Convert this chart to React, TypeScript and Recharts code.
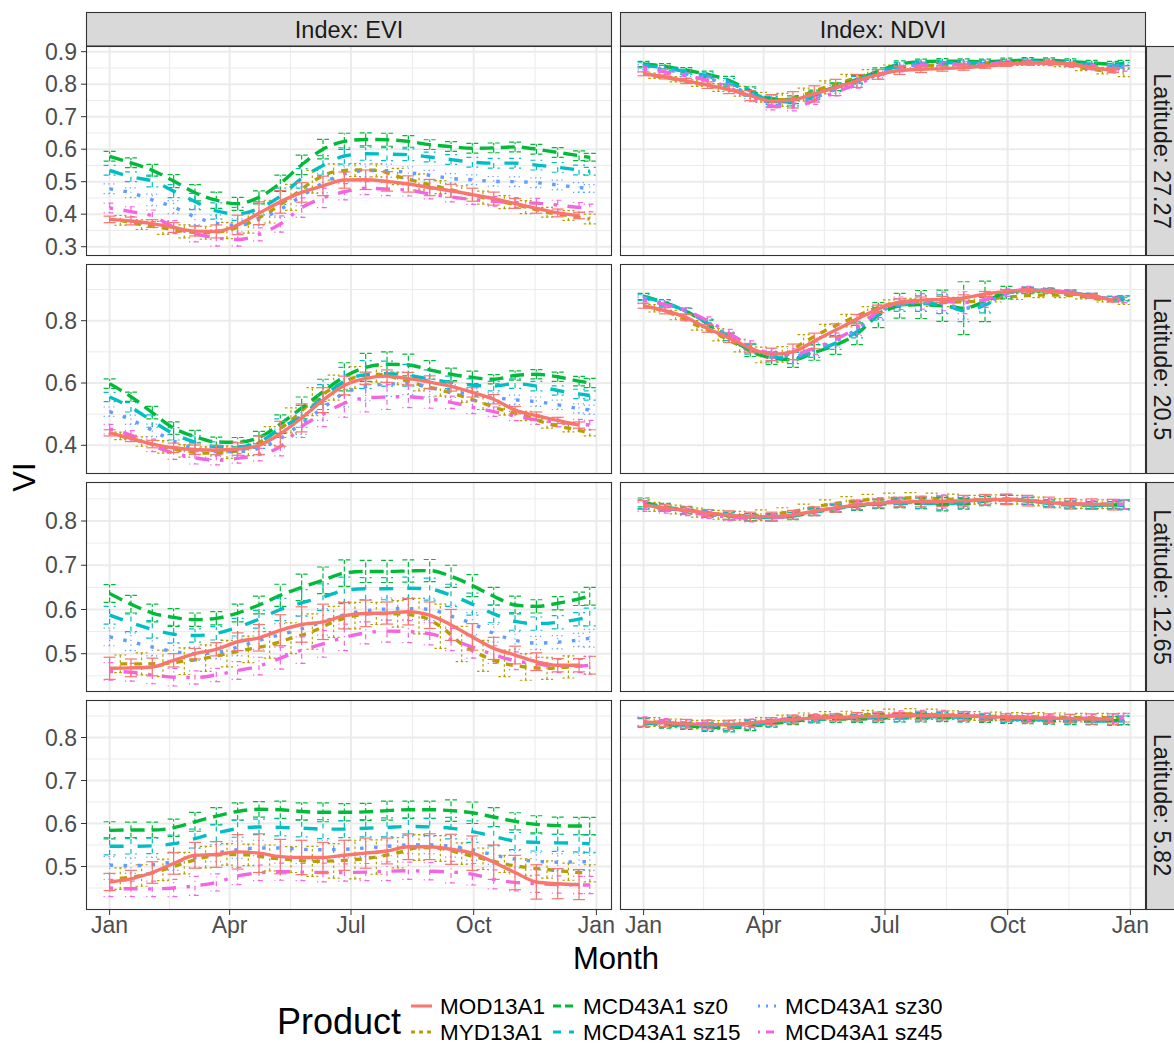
import React from 'react';
import { LineChart, Line, XAxis, YAxis, ErrorBar, ReferenceLine } from 'recharts';

const FONT = '"Liberation Sans", Arial, Helvetica, sans-serif';

// ---------- categories / axes ----------
const PRODUCTS = ['MOD13A1', 'MYD13A1', 'MCD43A1 sz0', 'MCD43A1 sz15', 'MCD43A1 sz30', 'MCD43A1 sz45'];
const INDEX_LABELS = ['Index: EVI', 'Index: NDVI'];
const ROW_LABELS = ['Latitude: 27.27', 'Latitude: 20.5', 'Latitude: 12.65', 'Latitude: 5.82'];
const MONTH_TICKS = [0, 90, 181, 273, 365];
const MONTH_LABELS = ['Jan', 'Apr', 'Jul', 'Oct', 'Jan'];
const MONTH_MINOR = [45, 135.5, 227, 319];

const DAYS_MOD = [0, 16, 32, 48, 64, 80, 96, 112, 128, 144, 160, 176, 192, 208, 224, 240, 256, 272, 288, 304, 320, 336, 352];
const DAYS_MYD = [8, 24, 40, 56, 72, 88, 104, 120, 136, 152, 168, 184, 200, 216, 232, 248, 264, 280, 296, 312, 328, 344, 360];
const DAYS_MCD = [0, 16, 32, 48, 64, 80, 96, 112, 128, 144, 160, 176, 192, 208, 224, 240, 256, 272, 288, 304, 320, 336, 352, 360];

const ROW_DOMAINS = [[0.2714, 0.9175], [0.3079, 0.982], [0.4134, 0.8882], [0.3988, 0.8872]];
const ROW_TICKS = [[0.3, 0.4, 0.5, 0.6, 0.7, 0.8, 0.9], [0.4, 0.6, 0.8], [0.5, 0.6, 0.7, 0.8], [0.5, 0.6, 0.7, 0.8]];
const ROW_MINOR = [[0.35, 0.45, 0.55, 0.65, 0.75, 0.85], [0.5, 0.7, 0.9], [0.45, 0.55, 0.65, 0.75, 0.85], [0.45, 0.55, 0.65, 0.75, 0.85]];

// ---------- Latitude 27.27 ----------
const EVI27_MOD = [0.384, 0.379, 0.371, 0.359, 0.348, 0.347, 0.367, 0.403, 0.438, 0.467, 0.487, 0.505, 0.506, 0.501, 0.493, 0.482, 0.472, 0.460, 0.448, 0.433, 0.418, 0.404, 0.396];
const EVI27_MYD = [0.381, 0.368, 0.358, 0.347, 0.343, 0.350, 0.372, 0.408, 0.452, 0.500, 0.530, 0.536, 0.535, 0.516, 0.499, 0.483, 0.467, 0.451, 0.437, 0.422, 0.406, 0.396, 0.385];
const EVI27_SZ0 = [0.578, 0.558, 0.535, 0.502, 0.466, 0.443, 0.432, 0.452, 0.495, 0.552, 0.600, 0.624, 0.630, 0.629, 0.624, 0.614, 0.608, 0.603, 0.604, 0.607, 0.600, 0.590, 0.580, 0.575];
const EVI27_SZ15 = [0.535, 0.515, 0.502, 0.471, 0.439, 0.410, 0.401, 0.418, 0.455, 0.510, 0.550, 0.579, 0.586, 0.585, 0.583, 0.576, 0.568, 0.560, 0.557, 0.557, 0.551, 0.544, 0.536, 0.532];
const EVI27_SZ30 = [0.478, 0.466, 0.444, 0.422, 0.392, 0.372, 0.366, 0.384, 0.415, 0.456, 0.496, 0.524, 0.534, 0.534, 0.528, 0.520, 0.510, 0.506, 0.501, 0.500, 0.497, 0.490, 0.482, 0.479];
const EVI27_SZ45 = [0.419, 0.408, 0.395, 0.360, 0.340, 0.327, 0.322, 0.338, 0.370, 0.420, 0.450, 0.469, 0.480, 0.477, 0.474, 0.462, 0.453, 0.445, 0.440, 0.436, 0.434, 0.428, 0.421, 0.419];
const EVI27_MOD_ERR = [0.01, 0.012, 0.012, 0.015, 0.015, 0.02, 0.03, 0.035, 0.035, 0.03, 0.03, 0.025, 0.03, 0.03, 0.025, 0.025, 0.02, 0.02, 0.02, 0.015, 0.015, 0.012, 0.01];
const EVI27_MYD_ERR = [0.015, 0.015, 0.02, 0.02, 0.02, 0.025, 0.03, 0.035, 0.04, 0.035, 0.025, 0.02, 0.02, 0.025, 0.025, 0.02, 0.02, 0.02, 0.02, 0.02, 0.015, 0.015, 0.015];
const EVI27_MCD_ERR = [0.015, 0.015, 0.018, 0.02, 0.025, 0.025, 0.02, 0.02, 0.025, 0.03, 0.03, 0.025, 0.02, 0.02, 0.018, 0.015, 0.015, 0.015, 0.015, 0.015, 0.015, 0.015, 0.015, 0.012];

const NDVI27_MOD = [0.832, 0.822, 0.810, 0.797, 0.783, 0.765, 0.748, 0.752, 0.770, 0.790, 0.810, 0.830, 0.842, 0.846, 0.848, 0.851, 0.855, 0.861, 0.865, 0.866, 0.861, 0.851, 0.842];
const NDVI27_MYD = [0.826, 0.815, 0.803, 0.790, 0.778, 0.760, 0.752, 0.768, 0.790, 0.810, 0.830, 0.847, 0.855, 0.858, 0.860, 0.862, 0.864, 0.866, 0.866, 0.862, 0.850, 0.842, 0.835];
const NDVI27_SZ0 = [0.862, 0.855, 0.843, 0.830, 0.812, 0.780, 0.755, 0.752, 0.770, 0.792, 0.815, 0.840, 0.862, 0.869, 0.871, 0.870, 0.869, 0.872, 0.874, 0.873, 0.870, 0.865, 0.862, 0.865];
const NDVI27_SZ15 = [0.858, 0.850, 0.838, 0.825, 0.805, 0.775, 0.750, 0.745, 0.765, 0.790, 0.812, 0.836, 0.857, 0.864, 0.866, 0.866, 0.866, 0.868, 0.870, 0.869, 0.865, 0.860, 0.856, 0.858];
const NDVI27_SZ30 = [0.852, 0.845, 0.832, 0.818, 0.798, 0.768, 0.742, 0.738, 0.758, 0.784, 0.806, 0.830, 0.852, 0.860, 0.862, 0.863, 0.863, 0.866, 0.868, 0.867, 0.862, 0.856, 0.852, 0.853];
const NDVI27_SZ45 = [0.845, 0.838, 0.826, 0.812, 0.790, 0.758, 0.733, 0.730, 0.750, 0.776, 0.800, 0.826, 0.848, 0.857, 0.860, 0.861, 0.862, 0.865, 0.866, 0.865, 0.860, 0.852, 0.848, 0.848];
const NDVI27_MOD_ERR = [0.006, 0.006, 0.008, 0.01, 0.012, 0.015, 0.02, 0.025, 0.025, 0.025, 0.02, 0.015, 0.012, 0.01, 0.008, 0.008, 0.006, 0.006, 0.006, 0.006, 0.006, 0.006, 0.006];
const NDVI27_MYD_ERR = [0.008, 0.008, 0.01, 0.012, 0.015, 0.015, 0.02, 0.02, 0.02, 0.02, 0.015, 0.012, 0.01, 0.008, 0.008, 0.008, 0.008, 0.008, 0.008, 0.008, 0.008, 0.01, 0.012];
const NDVI27_MCD_ERR = [0.008, 0.008, 0.008, 0.01, 0.012, 0.012, 0.012, 0.012, 0.012, 0.012, 0.012, 0.01, 0.01, 0.008, 0.008, 0.008, 0.008, 0.008, 0.008, 0.008, 0.008, 0.008, 0.008, 0.008];

// ---------- Latitude 20.5 ----------
const EVI20_MOD = [0.440, 0.422, 0.404, 0.392, 0.386, 0.385, 0.388, 0.400, 0.437, 0.488, 0.545, 0.592, 0.615, 0.622, 0.614, 0.603, 0.589, 0.570, 0.548, 0.513, 0.495, 0.480, 0.465];
const EVI20_MYD = [0.430, 0.412, 0.395, 0.382, 0.375, 0.378, 0.392, 0.430, 0.480, 0.540, 0.585, 0.618, 0.628, 0.615, 0.595, 0.578, 0.558, 0.535, 0.512, 0.494, 0.470, 0.455, 0.440];
const EVI20_SZ0 = [0.598, 0.556, 0.505, 0.455, 0.428, 0.411, 0.410, 0.425, 0.468, 0.520, 0.572, 0.620, 0.650, 0.660, 0.658, 0.642, 0.628, 0.618, 0.612, 0.624, 0.628, 0.620, 0.606, 0.600];
const EVI20_SZ15 = [0.555, 0.522, 0.478, 0.437, 0.410, 0.396, 0.395, 0.410, 0.455, 0.493, 0.555, 0.605, 0.627, 0.630, 0.625, 0.612, 0.602, 0.593, 0.590, 0.598, 0.590, 0.576, 0.565, 0.560];
const EVI20_SZ30 = [0.508, 0.482, 0.448, 0.414, 0.390, 0.380, 0.380, 0.390, 0.422, 0.470, 0.520, 0.568, 0.588, 0.597, 0.598, 0.585, 0.574, 0.562, 0.553, 0.546, 0.540, 0.530, 0.518, 0.514];
const EVI20_SZ45 = [0.452, 0.432, 0.400, 0.375, 0.360, 0.352, 0.358, 0.370, 0.396, 0.460, 0.500, 0.535, 0.552, 0.555, 0.556, 0.549, 0.538, 0.522, 0.508, 0.494, 0.482, 0.474, 0.468, 0.465];
const EVI20_MOD_ERR = [0.01, 0.01, 0.012, 0.015, 0.015, 0.015, 0.02, 0.03, 0.04, 0.045, 0.04, 0.03, 0.02, 0.02, 0.02, 0.02, 0.015, 0.015, 0.015, 0.012, 0.012, 0.01, 0.01];
const EVI20_MYD_ERR = [0.012, 0.015, 0.02, 0.02, 0.02, 0.02, 0.025, 0.03, 0.04, 0.045, 0.04, 0.035, 0.025, 0.02, 0.02, 0.02, 0.02, 0.02, 0.015, 0.015, 0.015, 0.012, 0.01];
const EVI20_MCD_ERR = [0.015, 0.015, 0.02, 0.02, 0.02, 0.015, 0.015, 0.02, 0.03, 0.035, 0.04, 0.045, 0.045, 0.04, 0.035, 0.03, 0.02, 0.02, 0.015, 0.015, 0.015, 0.015, 0.015, 0.015];

const NDVI20_MOD = [0.848, 0.832, 0.810, 0.775, 0.745, 0.712, 0.692, 0.700, 0.735, 0.770, 0.805, 0.838, 0.860, 0.866, 0.868, 0.873, 0.886, 0.894, 0.898, 0.895, 0.888, 0.878, 0.866];
const NDVI20_MYD = [0.840, 0.818, 0.785, 0.755, 0.720, 0.690, 0.692, 0.730, 0.768, 0.800, 0.830, 0.852, 0.860, 0.858, 0.860, 0.862, 0.872, 0.878, 0.882, 0.882, 0.878, 0.868, 0.860];
const NDVI20_SZ0 = [0.878, 0.858, 0.830, 0.790, 0.745, 0.705, 0.680, 0.675, 0.698, 0.722, 0.758, 0.818, 0.848, 0.852, 0.848, 0.840, 0.862, 0.890, 0.897, 0.895, 0.890, 0.880, 0.870, 0.872];
const NDVI20_SZ15 = [0.875, 0.857, 0.830, 0.792, 0.748, 0.708, 0.683, 0.680, 0.702, 0.728, 0.765, 0.822, 0.850, 0.855, 0.853, 0.832, 0.850, 0.888, 0.898, 0.896, 0.890, 0.880, 0.870, 0.872];
const NDVI20_SZ30 = [0.870, 0.854, 0.830, 0.795, 0.752, 0.712, 0.688, 0.685, 0.708, 0.735, 0.772, 0.826, 0.852, 0.858, 0.856, 0.840, 0.855, 0.888, 0.898, 0.897, 0.890, 0.880, 0.870, 0.870];
const NDVI20_SZ45 = [0.865, 0.852, 0.832, 0.800, 0.760, 0.720, 0.695, 0.692, 0.712, 0.740, 0.778, 0.830, 0.856, 0.862, 0.862, 0.858, 0.868, 0.890, 0.900, 0.898, 0.890, 0.880, 0.868, 0.866];
const NDVI20_MOD_ERR = [0.008, 0.01, 0.01, 0.012, 0.015, 0.015, 0.02, 0.025, 0.025, 0.02, 0.015, 0.012, 0.01, 0.01, 0.01, 0.01, 0.008, 0.006, 0.006, 0.006, 0.006, 0.006, 0.006];
const NDVI20_MYD_ERR = [0.012, 0.015, 0.015, 0.02, 0.02, 0.025, 0.025, 0.025, 0.02, 0.02, 0.015, 0.015, 0.012, 0.012, 0.015, 0.015, 0.012, 0.01, 0.008, 0.008, 0.008, 0.008, 0.008];
const NDVI20_SZ0_ERR = [0.01, 0.01, 0.01, 0.012, 0.015, 0.02, 0.02, 0.025, 0.025, 0.03, 0.035, 0.04, 0.04, 0.045, 0.05, 0.085, 0.065, 0.02, 0.01, 0.008, 0.008, 0.008, 0.008, 0.008];
const NDVI20_MCD_ERR = [0.01, 0.01, 0.01, 0.012, 0.012, 0.015, 0.015, 0.018, 0.02, 0.02, 0.02, 0.02, 0.02, 0.025, 0.03, 0.035, 0.025, 0.012, 0.01, 0.008, 0.008, 0.008, 0.008, 0.008];

// ---------- Latitude 12.65 ----------
const EVI12_MOD = [0.467, 0.468, 0.470, 0.485, 0.500, 0.510, 0.527, 0.536, 0.553, 0.566, 0.572, 0.586, 0.591, 0.592, 0.595, 0.587, 0.565, 0.538, 0.512, 0.497, 0.482, 0.474, 0.474];
const EVI12_MYD = [0.477, 0.477, 0.478, 0.483, 0.490, 0.500, 0.510, 0.520, 0.535, 0.550, 0.572, 0.586, 0.591, 0.590, 0.585, 0.562, 0.522, 0.495, 0.478, 0.470, 0.467, 0.470, 0.474];
const EVI12_SZ0 = [0.636, 0.612, 0.592, 0.582, 0.577, 0.580, 0.592, 0.610, 0.632, 0.650, 0.666, 0.682, 0.686, 0.686, 0.687, 0.688, 0.675, 0.654, 0.630, 0.610, 0.607, 0.614, 0.624, 0.630];
const EVI12_SZ15 = [0.587, 0.570, 0.555, 0.544, 0.541, 0.546, 0.560, 0.578, 0.600, 0.615, 0.628, 0.643, 0.647, 0.647, 0.648, 0.646, 0.632, 0.612, 0.590, 0.573, 0.568, 0.571, 0.578, 0.583];
const EVI12_SZ30 = [0.538, 0.527, 0.515, 0.505, 0.500, 0.503, 0.515, 0.530, 0.543, 0.556, 0.572, 0.588, 0.597, 0.601, 0.602, 0.600, 0.585, 0.568, 0.546, 0.530, 0.524, 0.526, 0.531, 0.535];
const EVI12_SZ45 = [0.460, 0.458, 0.452, 0.447, 0.446, 0.452, 0.462, 0.472, 0.490, 0.508, 0.522, 0.537, 0.547, 0.551, 0.550, 0.545, 0.532, 0.515, 0.498, 0.484, 0.477, 0.472, 0.472, 0.474];
const EVI12_MOD_ERR = [0.025, 0.02, 0.02, 0.015, 0.012, 0.015, 0.02, 0.03, 0.035, 0.04, 0.04, 0.03, 0.03, 0.025, 0.03, 0.03, 0.035, 0.03, 0.025, 0.02, 0.02, 0.015, 0.015];
const EVI12_MYD_ERR = [0.02, 0.025, 0.03, 0.03, 0.03, 0.03, 0.03, 0.03, 0.035, 0.04, 0.035, 0.03, 0.025, 0.03, 0.04, 0.05, 0.04, 0.035, 0.03, 0.03, 0.025, 0.025, 0.02];
const EVI12_MCD_ERR = [0.02, 0.02, 0.02, 0.02, 0.015, 0.015, 0.02, 0.02, 0.025, 0.03, 0.03, 0.03, 0.025, 0.025, 0.025, 0.025, 0.025, 0.025, 0.02, 0.02, 0.015, 0.015, 0.015, 0.02];

const NDVI12_MOD = [0.836, 0.830, 0.824, 0.818, 0.813, 0.810, 0.810, 0.814, 0.822, 0.830, 0.836, 0.840, 0.843, 0.844, 0.845, 0.846, 0.848, 0.849, 0.846, 0.842, 0.839, 0.838, 0.837];
const NDVI12_MYD = [0.832, 0.826, 0.819, 0.814, 0.812, 0.813, 0.818, 0.826, 0.836, 0.843, 0.848, 0.851, 0.852, 0.851, 0.849, 0.848, 0.849, 0.848, 0.844, 0.840, 0.838, 0.838, 0.838];
const NDVI12_SZ0 = [0.842, 0.832, 0.825, 0.818, 0.812, 0.809, 0.808, 0.811, 0.820, 0.828, 0.834, 0.838, 0.840, 0.840, 0.838, 0.839, 0.845, 0.848, 0.845, 0.840, 0.837, 0.836, 0.836, 0.837];
const NDVI12_SZ15 = [0.838, 0.830, 0.823, 0.816, 0.811, 0.808, 0.808, 0.812, 0.821, 0.829, 0.835, 0.839, 0.840, 0.840, 0.840, 0.841, 0.846, 0.849, 0.846, 0.840, 0.836, 0.835, 0.835, 0.835];
const NDVI12_SZ30 = [0.836, 0.829, 0.822, 0.815, 0.810, 0.808, 0.809, 0.813, 0.822, 0.830, 0.836, 0.840, 0.842, 0.842, 0.842, 0.843, 0.847, 0.849, 0.846, 0.841, 0.838, 0.837, 0.837, 0.837];
const NDVI12_SZ45 = [0.832, 0.826, 0.820, 0.814, 0.809, 0.806, 0.807, 0.812, 0.822, 0.831, 0.838, 0.842, 0.844, 0.844, 0.844, 0.845, 0.848, 0.850, 0.846, 0.842, 0.839, 0.838, 0.838, 0.838];
const NDVI12_MOD_ERR = [0.01, 0.008, 0.008, 0.008, 0.01, 0.01, 0.01, 0.01, 0.01, 0.01, 0.01, 0.01, 0.01, 0.012, 0.012, 0.012, 0.012, 0.012, 0.012, 0.012, 0.012, 0.012, 0.012];
const NDVI12_MYD_ERR = [0.01, 0.01, 0.01, 0.01, 0.01, 0.012, 0.012, 0.012, 0.012, 0.012, 0.012, 0.012, 0.012, 0.012, 0.012, 0.01, 0.01, 0.01, 0.01, 0.01, 0.01, 0.01, 0.01];
const NDVI12_MCD_ERR = [0.01, 0.008, 0.008, 0.008, 0.008, 0.008, 0.008, 0.008, 0.008, 0.008, 0.01, 0.01, 0.01, 0.012, 0.015, 0.012, 0.01, 0.01, 0.008, 0.008, 0.008, 0.008, 0.008, 0.01];

// ---------- Latitude 5.82 ----------
const EVI5_MOD = [0.464, 0.471, 0.486, 0.507, 0.526, 0.528, 0.534, 0.531, 0.523, 0.521, 0.521, 0.526, 0.531, 0.536, 0.546, 0.546, 0.540, 0.531, 0.510, 0.486, 0.464, 0.460, 0.458];
const EVI5_MYD = [0.472, 0.479, 0.492, 0.508, 0.522, 0.528, 0.527, 0.520, 0.516, 0.512, 0.513, 0.516, 0.522, 0.532, 0.544, 0.542, 0.530, 0.518, 0.506, 0.498, 0.493, 0.488, 0.484];
const EVI5_SZ0 = [0.584, 0.585, 0.585, 0.590, 0.604, 0.617, 0.628, 0.633, 0.632, 0.628, 0.626, 0.626, 0.627, 0.630, 0.632, 0.632, 0.630, 0.625, 0.615, 0.605, 0.598, 0.595, 0.594, 0.594];
const EVI5_SZ15 = [0.547, 0.547, 0.548, 0.553, 0.565, 0.578, 0.588, 0.592, 0.591, 0.589, 0.587, 0.587, 0.589, 0.591, 0.593, 0.592, 0.589, 0.581, 0.570, 0.559, 0.556, 0.555, 0.554, 0.553];
const EVI5_SZ30 = [0.503, 0.502, 0.504, 0.511, 0.520, 0.531, 0.539, 0.543, 0.543, 0.540, 0.539, 0.540, 0.543, 0.547, 0.550, 0.550, 0.547, 0.539, 0.527, 0.517, 0.512, 0.510, 0.511, 0.511];
const EVI5_SZ45 = [0.450, 0.448, 0.448, 0.450, 0.455, 0.463, 0.478, 0.485, 0.488, 0.487, 0.486, 0.486, 0.487, 0.489, 0.490, 0.489, 0.487, 0.482, 0.470, 0.463, 0.460, 0.458, 0.457, 0.457];
const EVI5_MOD_ERR = [0.02, 0.02, 0.025, 0.025, 0.03, 0.03, 0.04, 0.045, 0.04, 0.04, 0.035, 0.035, 0.035, 0.03, 0.03, 0.03, 0.035, 0.04, 0.04, 0.04, 0.04, 0.035, 0.035];
const EVI5_MYD_ERR = [0.025, 0.025, 0.025, 0.025, 0.025, 0.025, 0.025, 0.03, 0.03, 0.035, 0.04, 0.045, 0.04, 0.035, 0.03, 0.03, 0.025, 0.025, 0.02, 0.02, 0.02, 0.02, 0.02];
const EVI5_MCD_ERR = [0.02, 0.018, 0.018, 0.02, 0.022, 0.02, 0.02, 0.018, 0.02, 0.02, 0.022, 0.02, 0.02, 0.022, 0.02, 0.02, 0.025, 0.025, 0.022, 0.02, 0.02, 0.02, 0.02, 0.02];

const NDVI5_MOD = [0.836, 0.834, 0.832, 0.830, 0.830, 0.834, 0.838, 0.842, 0.845, 0.847, 0.848, 0.849, 0.850, 0.851, 0.851, 0.850, 0.848, 0.847, 0.846, 0.845, 0.844, 0.843, 0.843];
const NDVI5_MYD = [0.836, 0.833, 0.830, 0.829, 0.831, 0.836, 0.842, 0.847, 0.850, 0.851, 0.853, 0.854, 0.855, 0.854, 0.852, 0.850, 0.849, 0.848, 0.848, 0.847, 0.846, 0.846, 0.846];
const NDVI5_SZ0 = [0.834, 0.830, 0.827, 0.824, 0.823, 0.826, 0.832, 0.838, 0.842, 0.843, 0.843, 0.845, 0.846, 0.846, 0.847, 0.846, 0.843, 0.841, 0.840, 0.839, 0.838, 0.838, 0.839, 0.840];
const NDVI5_SZ15 = [0.835, 0.831, 0.828, 0.826, 0.826, 0.829, 0.834, 0.840, 0.843, 0.844, 0.845, 0.846, 0.847, 0.848, 0.848, 0.847, 0.845, 0.843, 0.842, 0.840, 0.839, 0.838, 0.838, 0.839];
const NDVI5_SZ30 = [0.836, 0.833, 0.830, 0.828, 0.828, 0.831, 0.836, 0.842, 0.845, 0.846, 0.847, 0.848, 0.849, 0.850, 0.850, 0.848, 0.846, 0.845, 0.844, 0.843, 0.842, 0.842, 0.842, 0.842];
const NDVI5_SZ45 = [0.838, 0.836, 0.833, 0.831, 0.830, 0.833, 0.838, 0.844, 0.847, 0.848, 0.849, 0.850, 0.852, 0.853, 0.853, 0.851, 0.849, 0.848, 0.847, 0.846, 0.845, 0.845, 0.845, 0.846];
const NDVI5_MOD_ERR = [0.01, 0.008, 0.01, 0.01, 0.01, 0.008, 0.008, 0.01, 0.008, 0.008, 0.01, 0.01, 0.008, 0.01, 0.01, 0.01, 0.008, 0.008, 0.01, 0.01, 0.01, 0.012, 0.012];
const NDVI5_MYD_ERR = [0.01, 0.01, 0.01, 0.01, 0.01, 0.01, 0.01, 0.01, 0.01, 0.01, 0.01, 0.012, 0.012, 0.012, 0.01, 0.01, 0.01, 0.01, 0.01, 0.01, 0.01, 0.01, 0.01];
const NDVI5_MCD_ERR = [0.01, 0.008, 0.008, 0.01, 0.01, 0.01, 0.008, 0.008, 0.008, 0.008, 0.008, 0.01, 0.01, 0.01, 0.01, 0.01, 0.008, 0.008, 0.008, 0.008, 0.008, 0.008, 0.01, 0.01];

// ---------- styling ----------
const COLORS = ['#F8766D', '#B79F00', '#00BA38', '#00BFC4', '#619CFF', '#F564E3'];
const DASHES = ['', '7 7', '14 7', '14 14', '3.5 10.5', '3.5 10.5 14 10.5'];
const ERR_DASHES = ['', '2.5 2.5', '5 2.5', '5 5', '1.2 3.6', '1.2 3.6 5 3.6'];
const KEY_DASHES = ['', '4 4', '8 4', '8 8', '2 6', '2 6 8 6'];
const DRAW_ORDER = [1, 2, 3, 4, 5, 0];

const X_DOMAIN: [number, number] = [-17.7, 376.7];
const PANEL_LEFT = [86, 620];
const PANEL_W = 526;
const ROW_TOP = [46, 264, 482, 700];
const PANEL_H = 210;
const Y_AXIS_W = 60;
const X_AXIS_H = 40;
const PAD = 16;

const DAYS = [DAYS_MOD, DAYS_MYD, DAYS_MCD, DAYS_MCD, DAYS_MCD, DAYS_MCD];

const PANELS = [
  { row: 0, col: 0, values: [EVI27_MOD, EVI27_MYD, EVI27_SZ0, EVI27_SZ15, EVI27_SZ30, EVI27_SZ45], errs: [EVI27_MOD_ERR, EVI27_MYD_ERR, EVI27_MCD_ERR, EVI27_MCD_ERR, EVI27_MCD_ERR, EVI27_MCD_ERR] },
  { row: 0, col: 1, values: [NDVI27_MOD, NDVI27_MYD, NDVI27_SZ0, NDVI27_SZ15, NDVI27_SZ30, NDVI27_SZ45], errs: [NDVI27_MOD_ERR, NDVI27_MYD_ERR, NDVI27_MCD_ERR, NDVI27_MCD_ERR, NDVI27_MCD_ERR, NDVI27_MCD_ERR] },
  { row: 1, col: 0, values: [EVI20_MOD, EVI20_MYD, EVI20_SZ0, EVI20_SZ15, EVI20_SZ30, EVI20_SZ45], errs: [EVI20_MOD_ERR, EVI20_MYD_ERR, EVI20_MCD_ERR, EVI20_MCD_ERR, EVI20_MCD_ERR, EVI20_MCD_ERR] },
  { row: 1, col: 1, values: [NDVI20_MOD, NDVI20_MYD, NDVI20_SZ0, NDVI20_SZ15, NDVI20_SZ30, NDVI20_SZ45], errs: [NDVI20_MOD_ERR, NDVI20_MYD_ERR, NDVI20_SZ0_ERR, NDVI20_MCD_ERR, NDVI20_MCD_ERR, NDVI20_MCD_ERR] },
  { row: 2, col: 0, values: [EVI12_MOD, EVI12_MYD, EVI12_SZ0, EVI12_SZ15, EVI12_SZ30, EVI12_SZ45], errs: [EVI12_MOD_ERR, EVI12_MYD_ERR, EVI12_MCD_ERR, EVI12_MCD_ERR, EVI12_MCD_ERR, EVI12_MCD_ERR] },
  { row: 2, col: 1, values: [NDVI12_MOD, NDVI12_MYD, NDVI12_SZ0, NDVI12_SZ15, NDVI12_SZ30, NDVI12_SZ45], errs: [NDVI12_MOD_ERR, NDVI12_MYD_ERR, NDVI12_MCD_ERR, NDVI12_MCD_ERR, NDVI12_MCD_ERR, NDVI12_MCD_ERR] },
  { row: 3, col: 0, values: [EVI5_MOD, EVI5_MYD, EVI5_SZ0, EVI5_SZ15, EVI5_SZ30, EVI5_SZ45], errs: [EVI5_MOD_ERR, EVI5_MYD_ERR, EVI5_MCD_ERR, EVI5_MCD_ERR, EVI5_MCD_ERR, EVI5_MCD_ERR] },
  { row: 3, col: 1, values: [NDVI5_MOD, NDVI5_MYD, NDVI5_SZ0, NDVI5_SZ15, NDVI5_SZ30, NDVI5_SZ45], errs: [NDVI5_MOD_ERR, NDVI5_MYD_ERR, NDVI5_MCD_ERR, NDVI5_MCD_ERR, NDVI5_MCD_ERR, NDVI5_MCD_ERR] },
];

const tickStyle = { fill: '#4D4D4D', fontSize: 23, fontFamily: FONT };

function Panel({ row, col, values, errs }: any) {
  const showY = col === 0;
  const showX = row === 3;
  const yW = showY ? Y_AXIS_W : 0;
  const xH = showX ? X_AXIS_H : 0;
  const padBottom = showX ? 0 : PAD;
  const series = values.map((vals: number[], k: number) =>
    DAYS[k].map((d, i) => ({ day: d, v: vals[i], e: errs[k][i] }))
  );
  return (
    <div style={{ position: 'absolute', left: PANEL_LEFT[col] - yW, top: ROW_TOP[row] - PAD }}>
      <LineChart
        width={PANEL_W + yW + PAD + 6}
        height={PANEL_H + xH + PAD + padBottom}
        margin={{ top: PAD, right: PAD + 6, bottom: padBottom, left: 0 }}
      >
        <XAxis
          type="number"
          dataKey="day"
          domain={X_DOMAIN}
          allowDataOverflow
          ticks={MONTH_TICKS}
          interval={0}
          tickFormatter={(v: number) => MONTH_LABELS[MONTH_TICKS.indexOf(v)]}
          hide={!showX}
          height={xH}
          axisLine={false}
          tickSize={5}
          tickMargin={2}
          tickLine={{ stroke: '#333333', strokeWidth: 1 }}
          tick={tickStyle}
        />
        <YAxis
          type="number"
          domain={ROW_DOMAINS[row]}
          allowDataOverflow
          ticks={ROW_TICKS[row]}
          interval={0}
          tickFormatter={(v: number) => v.toFixed(1)}
          hide={!showY}
          width={yW}
          axisLine={false}
          tickSize={5}
          tickMargin={4}
          tickLine={{ stroke: '#333333', strokeWidth: 1 }}
          tick={tickStyle}
        />
        {ROW_MINOR[row].map((y) => (
          <ReferenceLine key={'hy' + y} y={y} stroke="#EBEBEB" strokeWidth={1} ifOverflow="discard" />
        ))}
        {MONTH_MINOR.map((x) => (
          <ReferenceLine key={'mx' + x} x={x} stroke="#EBEBEB" strokeWidth={1} ifOverflow="discard" />
        ))}
        {ROW_TICKS[row].map((y) => (
          <ReferenceLine key={'Hy' + y} y={y} stroke="#EBEBEB" strokeWidth={2} ifOverflow="discard" />
        ))}
        {MONTH_TICKS.map((x) => (
          <ReferenceLine key={'Mx' + x} x={x} stroke="#EBEBEB" strokeWidth={2} ifOverflow="discard" />
        ))}
        {DRAW_ORDER.map((k) => (
          <Line
            key={PRODUCTS[k]}
            name={PRODUCTS[k]}
            data={series[k]}
            dataKey="v"
            type="monotone"
            stroke={COLORS[k]}
            strokeWidth={3.4}
            strokeDasharray={DASHES[k] || undefined}
            dot={false}
            activeDot={false}
            isAnimationActive={false}
          >
            <ErrorBar
              dataKey="e"
              direction="y"
              width={6}
              stroke={COLORS[k]}
              strokeWidth={1.2}
              strokeDasharray={ERR_DASHES[k] || undefined}
              isAnimationActive={false}
            />
          </Line>
        ))}
      </LineChart>
    </div>
  );
}

function Overlay() {
  const legendCols = [[0, 1], [2, 3], [4, 5]];
  const keyX = [411, 553, 758];
  const labelX = [440, 583, 785];
  const rowY = [1006, 1032];
  return (
    <svg width={1174} height={1046} style={{ position: 'absolute', left: 0, top: 0, pointerEvents: 'none' }}>
      {ROW_TOP.map((t, r) =>
        PANEL_LEFT.map((l, c) => (
          <rect key={`b${r}${c}`} x={l + 0.5} y={t + 0.5} width={PANEL_W - 1} height={PANEL_H - 1} fill="none" stroke="#333333" strokeWidth={1.1} />
        ))
      )}
      {INDEX_LABELS.map((lab, c) => (
        <g key={lab}>
          <rect x={PANEL_LEFT[c] + 0.5} y={12.5} width={PANEL_W - 1} height={33.5} fill="#D9D9D9" stroke="#333333" strokeWidth={1.1} />
          <text x={PANEL_LEFT[c] + PANEL_W / 2} y={29.5} textAnchor="middle" dominantBaseline="central" fontFamily={FONT} fontSize={23.5} fill="#1A1A1A">
            {lab}
          </text>
        </g>
      ))}
      {ROW_LABELS.map((lab, r) => (
        <g key={lab}>
          <rect x={1146.5} y={ROW_TOP[r] + 0.5} width={34} height={PANEL_H - 1} fill="#D9D9D9" stroke="#333333" strokeWidth={1.1} />
          <text
            transform={`translate(1162, ${ROW_TOP[r] + PANEL_H / 2}) rotate(90)`}
            textAnchor="middle"
            dominantBaseline="central"
            fontFamily={FONT}
            fontSize={23.5}
            fill="#1A1A1A"
          >
            {lab}
          </text>
        </g>
      ))}
      <text transform="translate(24, 477) rotate(-90)" textAnchor="middle" dominantBaseline="central" fontFamily={FONT} fontSize={31} fill="#000">
        VI
      </text>
      <text x={616} y={958} textAnchor="middle" dominantBaseline="central" fontFamily={FONT} fontSize={31} fill="#000">
        Month
      </text>
      <text x={277} y={1021} dominantBaseline="central" fontFamily={FONT} fontSize={36} fill="#000">
        Product
      </text>
      {legendCols.map((pair, ci) =>
        pair.map((k, ri) => (
          <g key={PRODUCTS[k]}>
            <line
              x1={keyX[ci]}
              x2={keyX[ci] + 21}
              y1={rowY[ri]}
              y2={rowY[ri]}
              stroke={COLORS[k]}
              strokeWidth={3}
              strokeDasharray={KEY_DASHES[k] || undefined}
            />
            <text x={labelX[ci]} y={rowY[ri]} dominantBaseline="central" fontFamily={FONT} fontSize={22.5} fill="#000">
              {PRODUCTS[k]}
            </text>
          </g>
        ))
      )}
    </svg>
  );
}

export default function App() {
  return (
    <div style={{ position: 'absolute', left: 0, top: 0, width: 1174, height: 1046, background: '#fff', overflow: 'hidden', fontFamily: FONT }}>
      {PANELS.map((p) => (
        <Panel key={`${p.row}-${p.col}`} {...p} />
      ))}
      <Overlay />
    </div>
  );
}
